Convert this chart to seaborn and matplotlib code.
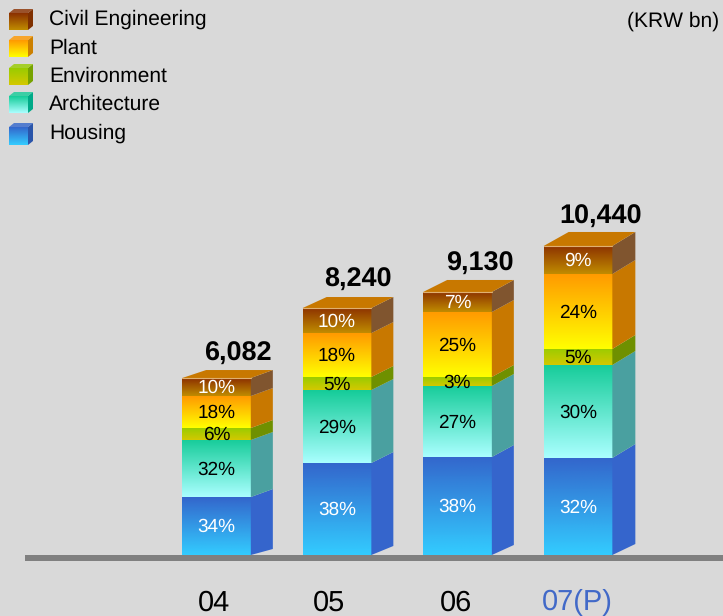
import numpy as np
import matplotlib
matplotlib.use("Agg")
import matplotlib.pyplot as plt
from matplotlib.colors import LinearSegmentedColormap
from matplotlib.patches import Polygon
import seaborn as sns

years = ["04", "05", "06", "07(P)"]
totals = ["6,082", "8,240", "9,130", "10,440"]

# segment heights in KRW bn
housing = [1959, 3108, 3311, 3277]
architecture = [1926, 2466, 2399, 3142]
environment = [405, 439, 304, 541]
plant = [1081, 1486, 2196, 2534]
civil = [608, 845, 676, 946]

housing_pct = ["34%", "38%", "38%", "32%"]
architecture_pct = ["32%", "29%", "27%", "30%"]
environment_pct = ["6%", "5%", "3%", "5%"]
plant_pct = ["18%", "18%", "25%", "24%"]
civil_pct = ["10%", "10%", "7%", "9%"]

W, H = 723, 616
BASE_PX = 555
PX_X = 120.5     # pixels per category
PX_Y = 0.0296    # pixels per KRW bn
BG = "#d9d9d9"

# name, values, labels, gradient bottom, gradient top, side colour, label colour
layers = [
    ("Housing", housing, housing_pct, "#33ccff", "#3366cc", "#3565cc", "white"),
    ("Architecture", architecture, architecture_pct, "#aaffff", "#15cc99", "#4aa0a0", "black"),
    ("Environment", environment, environment_pct, "#d4c800", "#99cc00", "#6f9000", "black"),
    ("Plant", plant, plant_pct, "#ffff00", "#ff9900", "#c87800", "black"),
    ("Civil Engineering", civil, civil_pct, "#c08c00", "#8b3000", "#80552f", "white"),
]
legend_y = {"Civil Engineering": (9, 30, 18), "Plant": (36, 57, 47), "Environment": (64, 85, 75),
            "Architecture": (92, 113, 103), "Housing": (123, 145, 132)}
legend_side = {"Civil Engineering": "#7f3000", "Plant": "#cc8000", "Environment": "#77a300",
               "Architecture": "#00aa88", "Housing": "#2a55aa"}

# depth of the 3D look, per bar (pixels)
depth = [22, 22, 22, 23]
rise = [8, 11, 12, 14]
rise_floor = [6, 9, 10, 11]
label_x = [214, 329, 456, 577]
total_x = [238, 358, 480, 601]
total_y = [352, 278, 262, 215]

sns.set_theme(style="white", rc={"figure.facecolor": BG, "axes.facecolor": BG})
plt.rcParams["font.family"] = ["Liberation Sans", "DejaVu Sans"]
plt.rcParams["text.hinting"] = "no_hinting"
plt.rcParams["text.hinting_factor"] = 1
plt.rcParams["text.kerning_factor"] = 0

fig = plt.figure(figsize=(W / 100, H / 100), dpi=100)
ax = fig.add_axes([0, 0, 1, 1])
xlim = (-216.5 / PX_X, (W - 216.5) / PX_X)
ylim = (-(H - BASE_PX) / PX_Y, BASE_PX / PX_Y)

bottom = np.zeros(4)
for name, vals, pcts, c0, c1, side, tc in layers:
    n0 = len(ax.patches)
    sns.barplot(x=years, y=vals, bottom=bottom, color=c1, width=0.57, saturation=1,
                errorbar=None, ax=ax, linewidth=0)
    cmap = LinearSegmentedColormap.from_list(name, [c0, c1])
    for i, bar in enumerate(ax.patches[n0:]):
        x0, x1 = bar.get_x(), bar.get_x() + bar.get_width()
        y0, y1 = bar.get_y(), bar.get_y() + bar.get_height()
        im = ax.imshow(np.linspace(0, 1, 256)[:, None], cmap=cmap, origin="lower", aspect="auto",
                       extent=[x0, x1, y0, y1], zorder=3)
        im.set_clip_path(bar)
        dx = depth[i] / PX_X
        r1 = rise[i] / PX_Y
        r0 = rise_floor[i] / PX_Y if y0 == 0 else r1
        ax.add_patch(Polygon([(x1, y0), (x1, y1), (x1 + dx, y1 + r1), (x1 + dx, y0 + r0)],
                             fc=side, ec="none", zorder=3))
        ax.text((x0 + x1) / 2, (y0 + y1) / 2 - 1 / PX_Y, pcts[i], color=tc, fontsize=14,
                ha="center", va="center", zorder=5)
    bottom = bottom + np.array(vals)

# top faces and their pale front edge
for i, bar in enumerate(ax.patches[:4]):
    x0, x1 = bar.get_x(), bar.get_x() + bar.get_width()
    t = bottom[i]
    dx = depth[i] / PX_X
    r = rise[i] / PX_Y
    ax.add_patch(Polygon([(x0, t), (x1, t), (x1 + dx, t + r), (x0 + dx + 2 / PX_X, t + r)],
                         fc="#c87800", ec="none", zorder=3))
    ax.plot([x0, x1], [t, t], color="#e0b070", lw=0.8, zorder=4)

ax.set_xlim(xlim)
ax.set_ylim(ylim)
ax.axis("off")

# overlay in pixel coordinates for the fixed furniture
ov = fig.add_axes([0, 0, 1, 1], facecolor="none")
ov.add_patch(plt.Rectangle((25, 555), W - 25, 6, fc="#808080", ec="none"))
for i, lab in enumerate(years):
    ov.text(label_x[i], 603, lab, fontsize=20.8, ha="center", va="center",
            color="#4169c8" if lab.endswith("(P)") else "black")
    ov.text(total_x[i], total_y[i] + 2, totals[i], fontsize=19.3, fontweight="bold", ha="center", va="center",
            color="black")
ov.text(719, 21, "(KRW bn)", fontsize=14.9, ha="right", va="center", color="black")

for name, vals, pcts, c0, c1, side, tc in layers:
    top, bot, ty = legend_y[name]
    cmap = LinearSegmentedColormap.from_list(name, [c1, c0])
    ov.imshow(np.linspace(0, 1, 64)[:, None], cmap=cmap, aspect="auto",
              extent=[9, 28, bot, top + 4], origin="upper", zorder=3)
    ov.add_patch(Polygon([(28, top + 4), (33, top), (33, bot - 4), (28, bot)], fc=legend_side[name], ec="none"))
    ov.add_patch(Polygon([(9, top + 4), (14, top), (33, top), (28, top + 4)], fc=c1, alpha=0.8, ec="none"))
    ov.text(49, ty + 1, name, fontsize=15.4, ha="left", va="center", color="black")

ov.set_xlim(0, W)
ov.set_ylim(H, 0)
ov.axis("off")

fig.savefig("out.png", dpi=100, facecolor=BG)
